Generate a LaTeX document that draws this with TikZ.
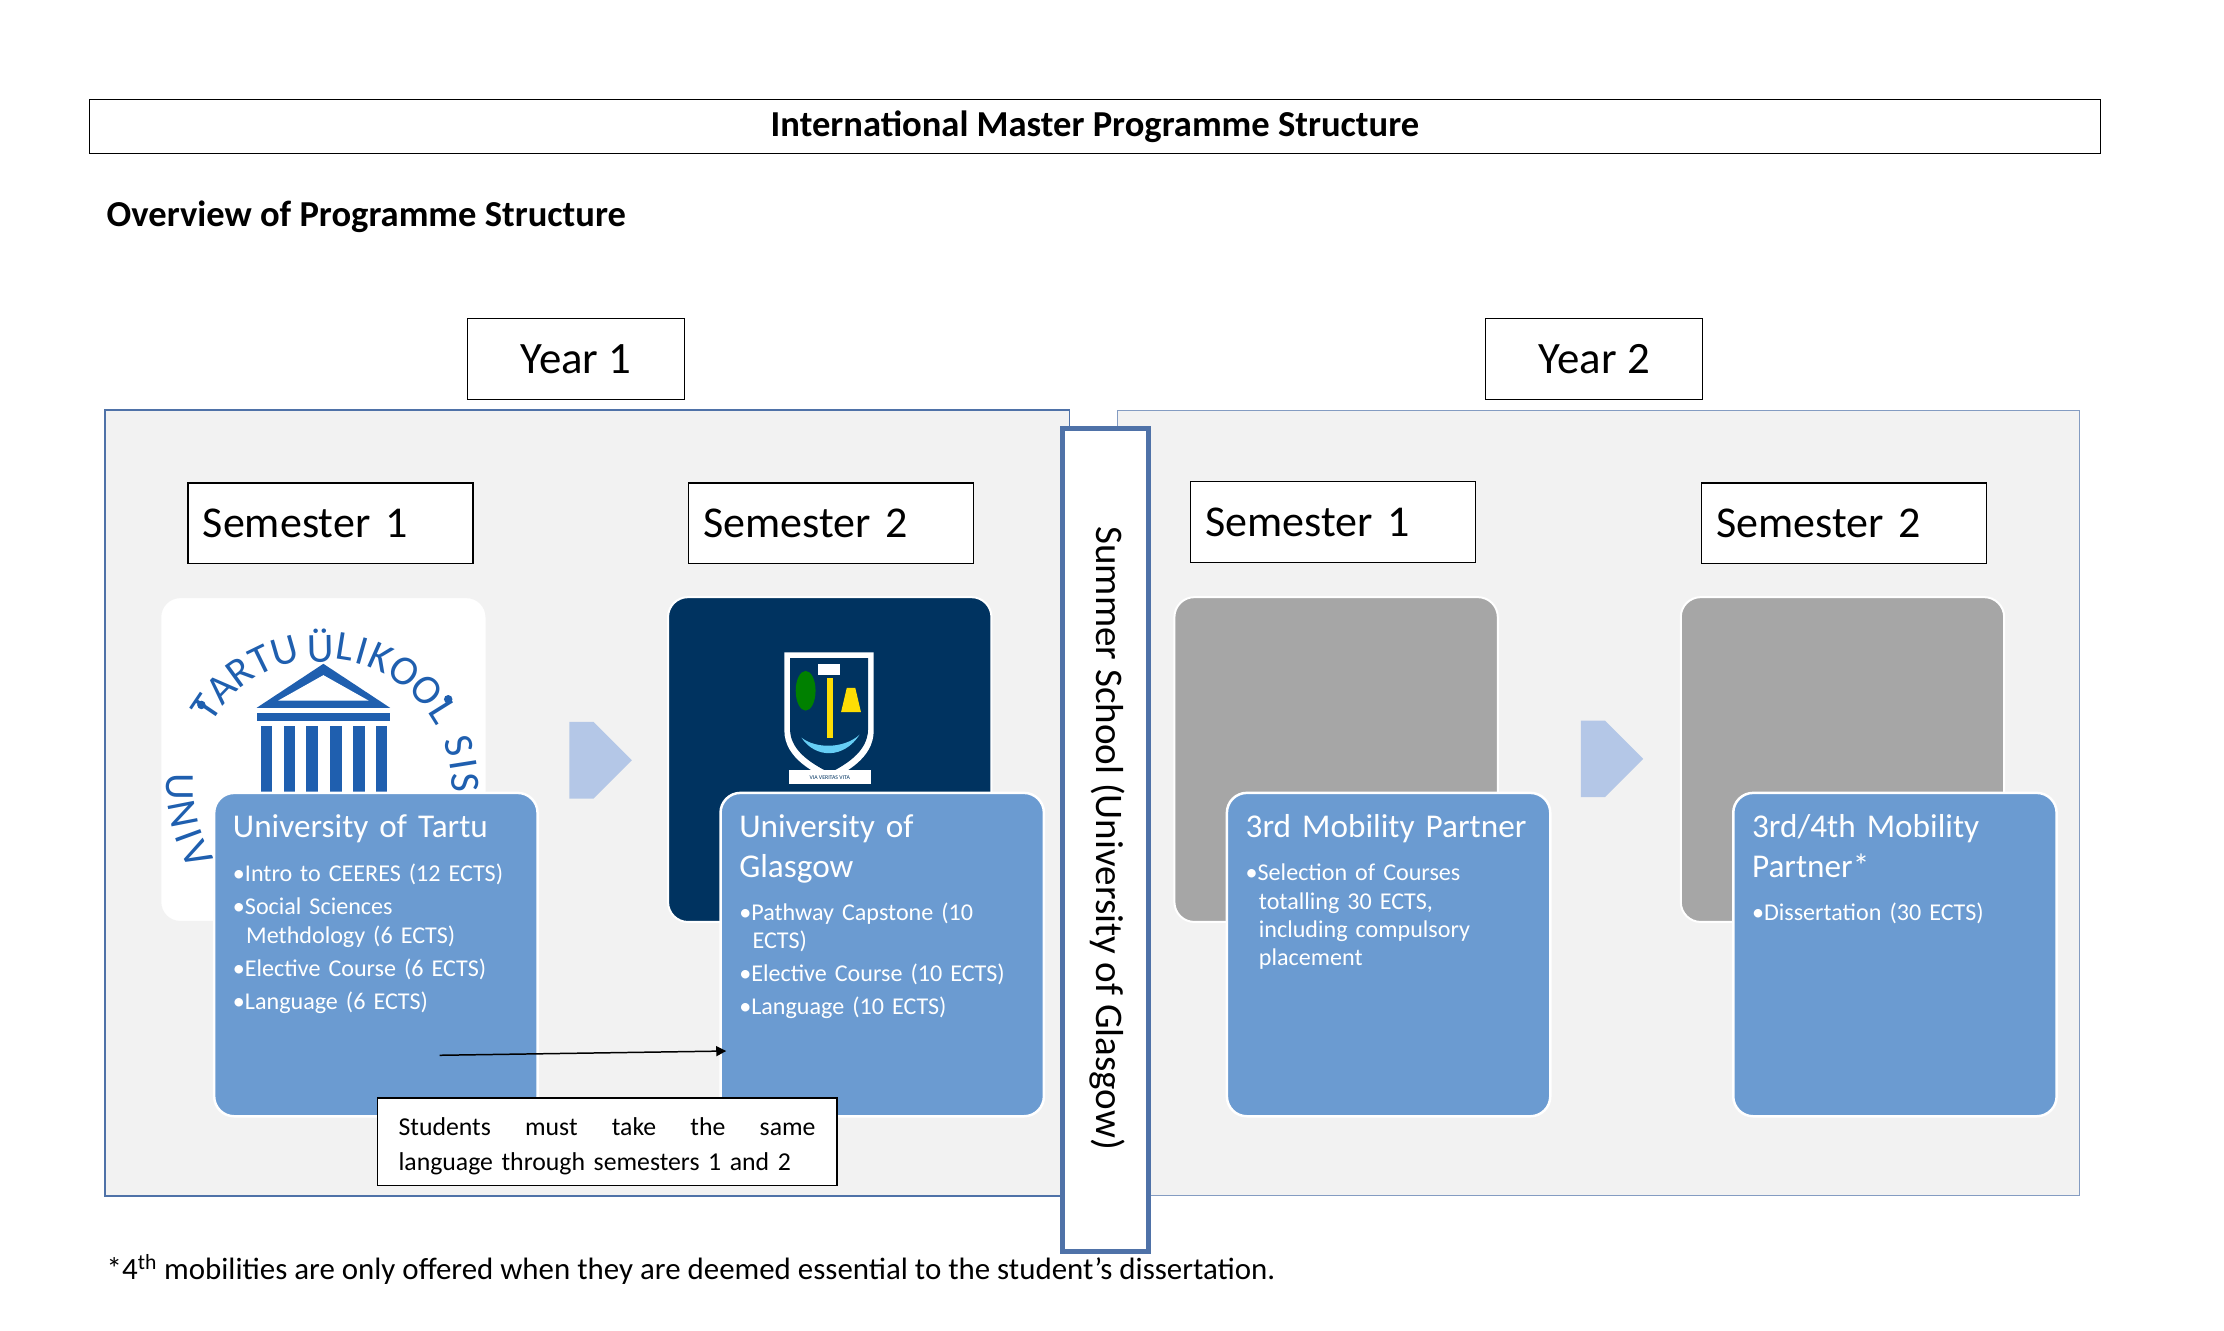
\documentclass[tikz,border=0pt]{standalone}
\usepackage{fontspec}
\setmainfont{Carlito}
\usetikzlibrary{shapes.arrows,arrows.meta}
\definecolor{pblue}{HTML}{6B9BD1}
\definecolor{pframe}{HTML}{4F72A8}
\definecolor{navy}{HTML}{003360}
\definecolor{lgray}{HTML}{F2F2F2}
\definecolor{mgray}{HTML}{A6A6A6}
\definecolor{larrow}{HTML}{B4C7E7}
\definecolor{tblue}{HTML}{1F5FAF}
\begin{document}
\begin{tikzpicture}[x=0.03cm,y=-0.03cm,
  lbl/.style={draw=black,line width=0.8pt,fill=white,font=\fontsize{27}{30}\selectfont,anchor=center},
  sem/.style={draw=black,line width=0.8pt,fill=white,minimum width=201*0.03cm,minimum height=57*0.03cm,font=\fontsize{26.5}{30}\selectfont,text width=180*0.03cm,align=left},
  back/.style={rounded corners=12pt,line width=1.2pt,draw=white},
  card/.style={rounded corners=12pt,fill=pblue,draw=white,line width=1.5pt},
  ctitle/.style={anchor=north west,text=white,font=\fontsize{20}{24}\selectfont,text width=210*0.03cm,align=left,inner sep=0pt},
  citems/.style={anchor=north west,text=white,font=\fontsize{14.5}{17}\selectfont,text width=215*0.03cm,align=left,inner sep=0pt},
  lt/.style={text=tblue,font=\fontsize{25}{25}\selectfont,inner sep=0pt},
  barrow/.style={single arrow,fill=larrow,draw=none,minimum width=54*0.03cm,single arrow head extend=0pt,minimum height=44*0.03cm,single arrow tip angle=90}]
\useasboundingbox (0,0) rectangle (1568,938);
\fill[white] (0,0) rectangle (1568,938);
% title
\node[draw=black,line width=0.6pt,minimum width=1418*0.03cm,minimum height=38*0.03cm,font=\bfseries\fontsize{22}{24}\selectfont] (title) at (772,89) {International Master Programme Structure};
\node[anchor=west,font=\bfseries\fontsize{22}{24}\selectfont,inner sep=0pt] (ov) at (75,153) {Overview of Programme Structure};
% panels
\node[draw=pframe,fill=lgray,line width=1pt,minimum width=680*0.03cm,minimum height=554*0.03cm,inner sep=0pt] (p1) at (414,566) {};
\node[draw=pframe!70,fill=lgray,line width=0.5pt,minimum width=678*0.03cm,minimum height=554*0.03cm,inner sep=0pt] (p2) at (1127,566) {};
\node[lbl,minimum width=153*0.03cm,minimum height=57*0.03cm] (y1) at (406,253) {Year 1};
\node[lbl,minimum width=153*0.03cm,minimum height=57*0.03cm] (y2) at (1124,253) {Year 2};
% semesters
\node[sem] (s1) at (233,369) {Semester 1};
\node[sem] (s2) at (586,369) {Semester 2};
\node[sem] (s3) at (940,368) {Semester 1};
\node[sem] (s4) at (1300,369) {Semester 2};
% back rects
\draw[back,fill=white,draw=white!90!gray] (113,421) rectangle (343,650);
\draw[back,fill=navy] (471,421) rectangle (699,650);
\draw[back,fill=mgray] (828,421) rectangle (1056,650);
\draw[back,fill=mgray] (1185,421) rectangle (1413,650);
% Tartu logo
\begin{scope}
\clip[rounded corners=12pt] (113,421) rectangle (343,650);
\foreach \ch/\a in {T/146,A/136,R/126,T/116,U/106,Ü/91,L/81,I/74,K/66,O/55,O/43,L/32}{
  \node[lt,rotate=\a-90] at ([shift={(-\a:100)}]228,555) {\ch};
}
\foreach \ch/\a in {U/180,N/191,I/200,V/208}{
  \node[lt,rotate=\a+90] at ([shift={(-\a:101)}]228,555) {\ch};
}
\foreach \ch/\a in {S/17,I/9,S/2,I/-6}{
  \node[lt,rotate=\a-90] at ([shift={(-\a:100)}]228,555) {\ch};
}
\fill[tblue] (142,497) circle (3);
\fill[tblue] (316,493) circle (3);
\end{scope}
\fill[tblue] (181,499) -- (228,468) -- (275,499) -- cycle;
\fill[white] (196,494) -- (228,476) -- (260,494) -- cycle;
\fill[tblue] (181,503) rectangle (275,508);
\foreach \xx in {184,200,216,233,249,265}{\fill[tblue] (\xx,512) rectangle ++(8,48);}
% Glasgow shield
\fill[white] (553,460) -- (616,460) -- (616,515) .. controls (616,535) and (595,545) .. (585,550) .. controls (575,545) and (553,535) .. (553,515) -- cycle;
\fill[navy] (557,464) -- (612,464) -- (612,514) .. controls (612,531) and (594,540) .. (585,545) .. controls (576,540) and (557,531) .. (557,514) -- cycle;
\fill[green!50!black] (568,487) ellipse (7 and 14);
\fill[yellow!80!orange] (597,485) -- (603,485) -- (607,502) -- (593,502) -- cycle;
\fill[white] (577,468) rectangle (592,476);
\fill[yellow!80!orange] (583,478) rectangle (587,520);
\fill[cyan!60] (565,520) .. controls (575,535) and (595,535) .. (606,518) .. controls (595,528) and (575,528) .. (565,520);
\fill[white] (556,543) rectangle (614,553);
\node[font=\fontsize{3.5}{4}\selectfont,text=navy,inner sep=0pt] at (585,548) {VIA VERITAS VITA};
% block arrows
\node[barrow] (a1) at (410,536) {};
\node[barrow] (a2) at (1123,535) {};
% cards
\draw[card] (151,559) rectangle (379,787);
\draw[card] (508,559) rectangle (736,787);
\draw[card] (865,559) rectangle (1093,787);
\draw[card] (1222,559) rectangle (1450,787);
\node[ctitle] (t1) at (164,574) {University of Tartu};
\node[citems] (i1) at (164,609) {\textbullet Intro to CEERES (12 ECTS)\\[3pt]\textbullet Social Sciences\\\hspace*{0.55em}Methdology (6 ECTS)\\[3pt]\textbullet Elective Course (6 ECTS)\\[3pt]\textbullet Language (6 ECTS)};
\node[ctitle] (t2) at (521,574) {University of\\Glasgow};
\node[citems] (i2) at (521,636) {\textbullet Pathway Capstone (10\\\hspace*{0.55em}ECTS)\\[3pt]\textbullet Elective Course (10 ECTS)\\[3pt]\textbullet Language (10 ECTS)};
\node[ctitle] (t3) at (878,574) {3rd Mobility Partner};
\node[citems] (i3) at (878,609) {\textbullet Selection of Courses\\\hspace*{0.55em}totalling 30 ECTS,\\\hspace*{0.55em}including compulsory\\\hspace*{0.55em}placement};
\node[ctitle] (t4) at (1235,574) {3rd/4th Mobility\\Partner*};
\node[citems] (i4) at (1235,636) {\textbullet Dissertation (30 ECTS)};
% connector
\coordinate (la) at (310,744);
\coordinate (lb) at (512,741);
\draw[-{Triangle[length=6pt,width=6pt]},line width=0.9pt] (la) -- (lb);
% note
\node[draw=black,line width=0.8pt,fill=white,minimum width=324*0.03cm,minimum height=62*0.03cm,inner sep=2pt] (note) at (428,805) {};
\node[font=\fontsize{15.5}{21}\selectfont,text width=294*0.03cm,align=left,inner sep=0pt] at (428,808) {Students\hfill must\hfill take\hfill the\hfill same\\language through semesters 1 and 2};
% summer school
\node[draw=pframe,line width=3pt,fill=white,minimum width=61*0.03cm,minimum height=580*0.03cm,inner sep=0pt] (ss) at (779.5,592) {};
\node[rotate=-90,font=\fontsize{23.5}{26}\selectfont] (sst) at (781,591) {Summer School (University of Glasgow)};
% footnote
\node[anchor=west,font=\fontsize{18.6}{21}\selectfont,inner sep=0pt] (fn) at (75,895) {*4\textsuperscript{th} mobilities are only offered when they are deemed essential to the student’s dissertation.};
\end{tikzpicture}
\end{document}
